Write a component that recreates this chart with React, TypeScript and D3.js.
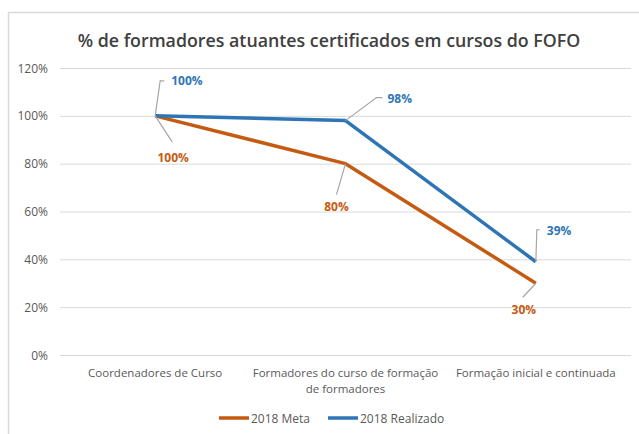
import React from "react";
import * as d3 from "d3";

const categories = [
  ["Coordenadores de Curso"],
  ["Formadores do curso de formação", "de formadores"],
  ["Formação inicial e continuada"],
];
const seriesNames = ["2018 Meta", "2018 Realizado"];
const metaValues = [100, 80, 30];
const realizadoValues = [100, 98, 39];
const yTicks = [0, 20, 40, 60, 80, 100, 120];
const title = "% de formadores atuantes certificados em cursos do FOFO";

const COLORS = ["#C55A11", "#2E75B6"];
const FONT = "'Open Sans', 'Liberation Sans', sans-serif";

// label leader offsets (style): [series][point]
const labelLayout = [
  [
    { lx: 17, ly: 26, hook: 0, tx: 18, ty: 42, anchor: "middle" },
    { lx: -9, ly: 31, hook: 0, tx: -9, ty: 43, anchor: "middle" },
    { lx: -13, ly: 14, hook: 0, tx: -12, ty: 26, anchor: "middle" },
  ],
  [
    { lx: 5, ly: -35, hook: 4, tx: 16, ty: -35, anchor: "start" },
    { lx: 31, ly: -23, hook: 6, tx: 42, ty: -22, anchor: "start" },
    { lx: 1, ly: -32, hook: 3, tx: 11, ty: -31, anchor: "start" },
  ],
];

export default function App() {
  const W = 639;
  const H = 434;
  const x = d3
    .scaleBand<number>()
    .domain(d3.range(categories.length))
    .range([60, 631]);
  const y = d3.scaleLinear().domain([0, 120]).range([355, 68]);
  const cx = (i: number) => (x(i) as number) + x.bandwidth() / 2;
  const line = d3
    .line<number>()
    .x((_, i) => cx(i))
    .y((v) => y(v));
  const series = [metaValues, realizadoValues];

  return (
    <svg
      width={W}
      height={H}
      style={{ position: "absolute", left: 0, top: 0, background: "#fff" }}
    >
      <rect x={8.5} y={12.5} width={800} height={600} fill="#fff" stroke="#d9d9d9" strokeWidth={1.5} />
      <text
        x={329}
        y={47}
        textAnchor="middle"
        fontFamily={FONT}
        fontSize={17.8}
        fontWeight={600}
        fill="#404040"
      >
        {title}
      </text>
      {yTicks.map((t) => (
        <g key={t}>
          <line x1={60} x2={631} y1={y(t) + 0.5} y2={y(t) + 0.5} stroke="#d9d9d9" strokeWidth={1} />
          <text
            x={48}
            y={y(t) + 4.5}
            textAnchor="end"
            fontFamily={FONT}
            fontSize={12}
            fill="#595959"
          >
            {t}%
          </text>
        </g>
      ))}
      {categories.map((lines, i) => (
        <text key={i} textAnchor="middle" fontFamily={FONT} fontSize={11.5} fill="#595959">
          {lines.map((l, j) => (
            <tspan key={j} x={cx(i)} y={377 + j * 16}>
              {l}
            </tspan>
          ))}
        </text>
      ))}
      {series.map((vals, s) => (
        <path
          key={s}
          d={line(vals) as string}
          fill="none"
          stroke={COLORS[s]}
          strokeWidth={3.5}
          strokeLinejoin="round"
        />
      ))}
      {series.map((vals, s) =>
        vals.map((v, i) => {
          const L = labelLayout[s][i];
          const px = cx(i);
          const py = y(v);
          const ex = px + L.lx;
          const ey = py + L.ly;
          return (
            <g key={`${s}-${i}`}>
              <polyline
                points={`${px},${py} ${ex},${ey} ${ex + L.hook},${ey}`}
                fill="none"
                stroke="#a6a6a6"
                strokeWidth={1.2}
              />
              <text
                x={px + L.tx}
                y={py + L.ty + 4.5}
                textAnchor={L.anchor}
                fontFamily={FONT}
                fontSize={12}
                fontWeight={700}
                fill={COLORS[s]}
              >
                {v}%
              </text>
            </g>
          );
        })
      )}
      {seriesNames.map((n, s) => {
        const lx = s === 0 ? 219 : 328;
        return (
          <g key={n}>
            <line x1={lx} x2={lx + 30} y1={418} y2={418} stroke={COLORS[s]} strokeWidth={3.5} />
            <text x={lx + 32} y={422.5} fontFamily={FONT} fontSize={12} fill="#595959">
              {n}
            </text>
          </g>
        );
      })}
    </svg>
  );
}
